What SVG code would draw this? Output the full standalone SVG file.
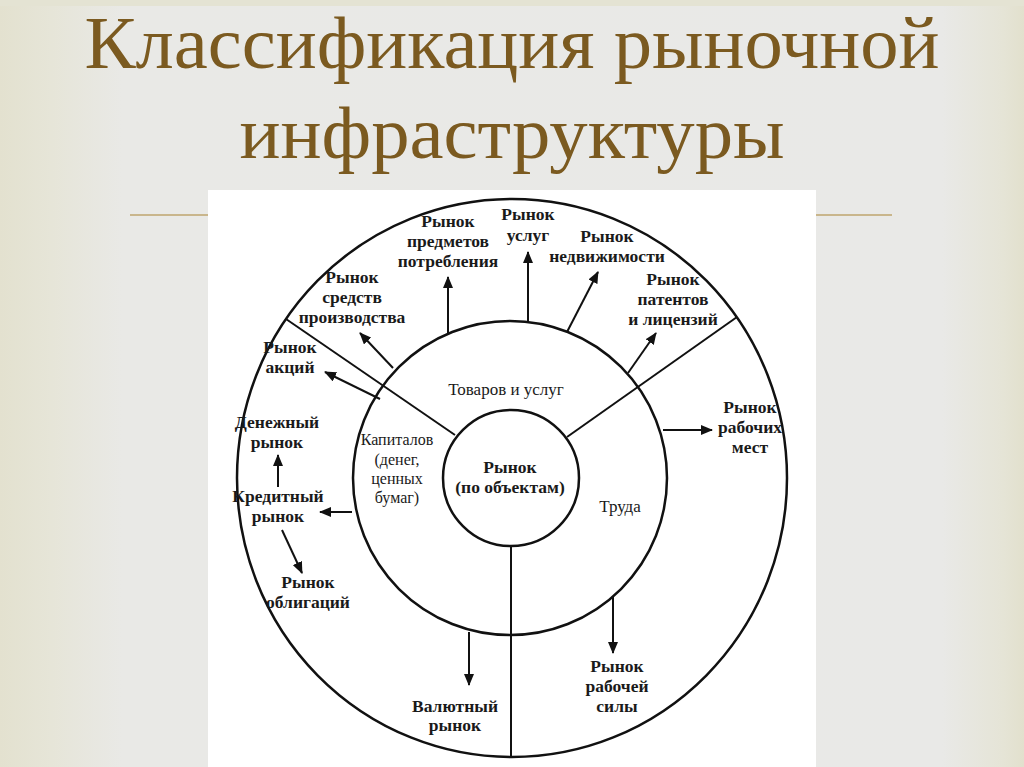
<svg xmlns="http://www.w3.org/2000/svg" width="1024" height="767" viewBox="0 0 1024 767">
<defs>
<linearGradient id="bgL" x1="0" y1="0" x2="1" y2="0">
<stop offset="0" stop-color="#e3e1cf"/><stop offset="0.05" stop-color="#e6e5d8"/><stop offset="0.12" stop-color="#e9e9e6"/><stop offset="0.92" stop-color="#e9e9e7"/><stop offset="0.98" stop-color="#e5e4d6"/><stop offset="1" stop-color="#e2e0cd"/>
</linearGradient>
<marker id="ah" viewBox="0 0 12 10" refX="11" refY="5" markerWidth="12" markerHeight="10" markerUnits="userSpaceOnUse" orient="auto">
<path d="M0,0 L12,5 L0,10 Z" fill="#111"/>
</marker>
<style>
.title{font-family:"Liberation Serif","DejaVu Serif",serif;font-size:75px;fill:#7b5a20;text-anchor:middle}
.ring{fill:none;stroke:#111;stroke-width:2.5}
.div{stroke:#111;stroke-width:2;fill:none}
.arr{stroke:#111;stroke-width:2;fill:none;marker-end:url(#ah)}
.lb{font-family:"Liberation Serif","DejaVu Serif",serif;font-size:17.5px;font-weight:bold;fill:#1a1a1a;text-anchor:middle}
.in{font-family:"Liberation Serif","DejaVu Serif",serif;font-size:16px;fill:#1a1a1a;text-anchor:middle}
</style>
</defs>
<rect x="0" y="0" width="1024" height="767" fill="url(#bgL)"/>
<rect x="0" y="0" width="1024" height="6" fill="#e4e3d3"/>
<g id="title">
<text class="title" x="512" y="68" textLength="855" lengthAdjust="spacingAndGlyphs">Классификация рыночной</text>
<text class="title" x="512" y="158" textLength="545" lengthAdjust="spacingAndGlyphs">инфраструктуры</text>
</g>
<g id="rule">
<line x1="130" y1="215" x2="892" y2="215" stroke="#c9b68c" stroke-width="2"/>
</g>
<rect id="panel" x="208" y="190" width="608" height="577" fill="#ffffff"/>
<g id="rings">
<ellipse class="ring" cx="512" cy="478" rx="275" ry="279"/>
<circle class="ring" cx="510" cy="478" r="157"/>
</g>
<g id="connectors">
<line class="div" x1="455" y1="435" x2="286" y2="319"/>
<line class="div" x1="567" y1="437" x2="737" y2="317"/>
<line class="div" x1="511" y1="546" x2="511" y2="757"/>
<line class="arr" x1="448" y1="333" x2="448" y2="277"/>
<line class="arr" x1="528" y1="323" x2="528" y2="252"/>
<line class="arr" x1="567" y1="332" x2="598" y2="272"/>
<line class="arr" x1="628" y1="373" x2="656" y2="333"/>
<line class="arr" x1="393" y1="368" x2="360" y2="333"/>
<line class="arr" x1="380" y1="399" x2="325" y2="372"/>
<line class="arr" x1="352" y1="512" x2="320" y2="512"/>
<line class="arr" x1="278" y1="487" x2="278" y2="455"/>
<line class="arr" x1="282" y1="530" x2="302" y2="573"/>
<line class="arr" x1="469" y1="632" x2="469" y2="685"/>
<line class="arr" x1="613" y1="596" x2="613" y2="653"/>
<line class="arr" x1="663" y1="430" x2="712" y2="430"/>
</g>
<g id="center"><circle class="ring" cx="511" cy="478" r="68"/>
<text class="lb" x="510" y="473">Рынок</text><text class="lb" x="510" y="493">(по объектам)</text></g>
<g id="goods"><text class="in" x="506" y="395" style="font-size:17px">Товаров и услуг</text></g>
<g id="capital"><text class="in" x="397" y="445">Капиталов</text><text class="in" x="397" y="465">(денег,</text><text class="in" x="397" y="484">ценных</text><text class="in" x="397" y="503">бумаг)</text></g>
<g id="labour"><text class="in" x="620" y="512" style="font-size:17px">Труда</text></g>
<g id="m-consumer"><text class="lb" x="448" y="227">Рынок</text><text class="lb" x="448" y="247">предметов</text><text class="lb" x="448" y="267">потребления</text></g>
<g id="m-services"><text class="lb" x="528" y="220">Рынок</text><text class="lb" x="528" y="241">услуг</text></g>
<g id="m-realty"><text class="lb" x="607" y="242">Рынок</text><text class="lb" x="607" y="262">недвижимости</text></g>
<g id="m-patents"><text class="lb" x="673" y="285">Рынок</text><text class="lb" x="673" y="305">патентов</text><text class="lb" x="673" y="325">и лицензий</text></g>
<g id="m-means"><text class="lb" x="352" y="283">Рынок</text><text class="lb" x="352" y="303">средств</text><text class="lb" x="352" y="323">производства</text></g>
<g id="m-shares"><text class="lb" x="290" y="353">Рынок</text><text class="lb" x="290" y="373">акций</text></g>
<g id="m-money"><text class="lb" x="277" y="428">Денежный</text><text class="lb" x="277" y="448">рынок</text></g>
<g id="m-credit"><text class="lb" x="278" y="502">Кредитный</text><text class="lb" x="278" y="522">рынок</text></g>
<g id="m-bonds"><text class="lb" x="308" y="588">Рынок</text><text class="lb" x="308" y="608">облигаций</text></g>
<g id="m-currency"><text class="lb" x="455" y="712">Валютный</text><text class="lb" x="455" y="731">рынок</text></g>
<g id="m-workforce"><text class="lb" x="617" y="672">Рынок</text><text class="lb" x="617" y="692">рабочей</text><text class="lb" x="617" y="712">силы</text></g>
<g id="m-jobs"><text class="lb" x="750" y="413">Рынок</text><text class="lb" x="750" y="433">рабочих</text><text class="lb" x="750" y="453">мест</text></g>
</svg>
